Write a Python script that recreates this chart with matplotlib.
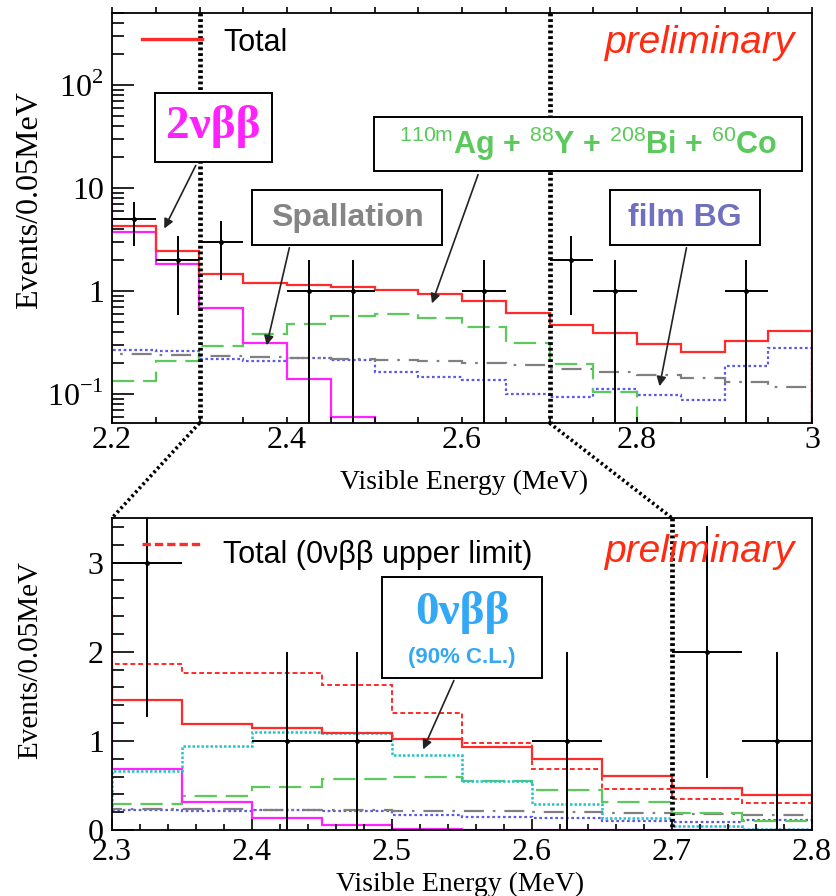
import numpy as np
import matplotlib
matplotlib.use("Agg")
import matplotlib.pyplot as plt
from matplotlib.patches import Rectangle, FancyArrowPatch
from matplotlib.lines import Line2D
from matplotlib.ticker import FixedLocator, MultipleLocator, NullFormatter, FixedFormatter

plt.rcParams['mathtext.fontset'] = 'custom'
plt.rcParams['mathtext.rm'] = 'Liberation Serif'
plt.rcParams['mathtext.sf'] = 'Liberation Sans'
plt.rcParams['font.family'] = ['Liberation Serif', 'DejaVu Serif']

# ---------------- data ----------------
bin_edges = [2.15, 2.20, 2.25, 2.30, 2.35, 2.40, 2.45, 2.50, 2.55, 2.60,
             2.65, 2.70, 2.75, 2.80, 2.85, 2.90, 2.95, 3.00]
total = [4.3, 4.3, 2.45, 1.46, 1.19, 1.14, 1.09, 1.02, 0.93, 0.80,
         0.61, 0.47, 0.39, 0.305, 0.255, 0.33, 0.41]
two_nu = [8.0, 3.75, 1.84, 0.68, 0.31, 0.14, 0.06, 0.015, 0, 0,
          0, 0, 0, 0, 0, 0, 0]
ag_y_bi_co = [0.08, 0.135, 0.21, 0.29, 0.38, 0.48, 0.57, 0.60, 0.55, 0.45,
              0.31, 0.195, 0.105, 0.052, 0.02, 0.01, 0.005]
spallation = [0.245, 0.243, 0.24, 0.236, 0.23, 0.226, 0.22, 0.215, 0.21, 0.2,
              0.19, 0.175, 0.165, 0.152, 0.142, 0.132, 0.118]
film_bg = [0.27, 0.265, 0.26, 0.22, 0.21, 0.225, 0.215, 0.165, 0.145, 0.138,
           0.10, 0.093, 0.112, 0.097, 0.088, 0.185, 0.28]

low_edges = [2.25, 2.30, 2.35, 2.40, 2.45, 2.50, 2.55, 2.60, 2.65, 2.70, 2.75, 2.80]
zero_nu = [0.28, 0.66, 0.94, 1.10, 1.09, 0.84, 0.55, 0.29, 0.13, 0.05, 0.01]
total_ul = [2.7, 1.86, 1.76, 1.76, 1.63, 1.31, 0.98, 0.68, 0.46, 0.35, 0.30]

top_x = [2.225, 2.275, 2.325, 2.425, 2.475, 2.625, 2.725, 2.775, 2.925]
top_n = [5, 2, 3, 1, 1, 1, 2, 1, 1]
low_x = [2.325, 2.425, 2.475, 2.625, 2.725, 2.775]
low_n = [3, 1, 1, 1, 2, 1]

top_yticks = [0.1, 1, 10, 100]
top_ytick_labels = [r'$10^{-1}$', '1', '10', r'$10^{2}$']
top_xticks = [2.2, 2.4, 2.6, 2.8, 3.0]
top_xtick_labels = ['2.2', '2.4', '2.6', '2.8', '3']
low_xticks = [2.3, 2.4, 2.5, 2.6, 2.7, 2.8]
low_xtick_labels = ['2.3', '2.4', '2.5', '2.6', '2.7', '2.8']
low_yticks = [0, 1, 2, 3]
low_ytick_labels = ['0', '1', '2', '3']

# ---------------- styles ----------------
RED = '#ff2a2a'
MAG = '#ff22ff'
GRN = '#5cc95c'
GRY = '#808080'
BLU = '#5a5ae6'
CYN = '#22c4c8'

W, H = 836, 896
fig = plt.figure(figsize=(W / 100, H / 100), dpi=100)


def fx(px):
    return px / W


def fy(py):
    return 1 - py / H


ax1 = fig.add_axes([fx(112), fy(423), 700 / W, 410 / H])
ax2 = fig.add_axes([fx(112), fy(830), 700 / W, 312 / H])

edges = np.array(bin_edges)
floor = 1e-4


def pos(v):
    v = np.asarray(v, dtype=float)
    return np.where(v > 0, v, floor)


LW = 1.6
# ---- top panel ----
ax1.set_yscale('log')
ax1.stairs(pos(film_bg), edges, color=BLU, lw=LW, ls=(0, (1.2, 1.2)))
ax1.stairs(pos(spallation), edges, color=GRY, lw=LW, ls=(0, (9, 4, 1.2, 4)))
ax1.stairs(pos(ag_y_bi_co), edges, color=GRN, lw=LW, ls=(0, (10, 4)))
ax1.stairs(pos(two_nu), edges, color=MAG, lw=LW)
ax1.stairs(pos(total), edges, color=RED, lw=LW)

tn = np.array(top_n, dtype=float)
err = np.sqrt(tn)
ax1.errorbar(top_x, tn, xerr=0.025, yerr=[np.minimum(err, tn - 1e-3), err],
             fmt='o', ms=2.5, color='black', lw=1.4, capsize=0)

ax1.set_xlim(2.2, 3.0)
ax1.set_ylim(0.0523, 500)
ax1.yaxis.set_major_locator(FixedLocator(top_yticks))
ax1.yaxis.set_major_formatter(FixedFormatter(top_ytick_labels))
minor = [m * 10.0 ** e for e in range(-2, 3) for m in range(2, 10)]
ax1.yaxis.set_minor_locator(FixedLocator(minor))
ax1.yaxis.set_minor_formatter(NullFormatter())
ax1.xaxis.set_major_locator(FixedLocator(top_xticks))
ax1.xaxis.set_major_formatter(FixedFormatter(top_xtick_labels))
ax1.xaxis.set_minor_locator(MultipleLocator(0.05))
ax1.tick_params(axis='y', which='major', direction='in', length=16, width=1.2,
                labelsize=23, pad=6, right=False)
ax1.tick_params(axis='y', which='minor', direction='in', length=8.5, width=1.2, right=False)
ax1.tick_params(axis='x', which='both', direction='in', length=4.5, width=1.2,
                labelsize=23, pad=2, top=False)
sec = ax1.secondary_xaxis('top')
sec.xaxis.set_major_locator(MultipleLocator(0.05))
sec.tick_params(direction='out', length=4.5, width=1.2, labelsize=0, labeltop=False)
sec.spines['top'].set_visible(False)

# ---- bottom panel ----
le = np.array(bin_edges[2:])
ax2.stairs(film_bg[2:], le, color=BLU, lw=LW, ls=(0, (1.2, 1.2)))
ax2.stairs(spallation[2:], le, color=GRY, lw=LW, ls=(0, (9, 4, 1.2, 4)))
ax2.stairs(ag_y_bi_co[2:], le, color=GRN, lw=LW, ls=(0, (10, 4)))
ax2.stairs(two_nu[2:], le, color=MAG, lw=LW)
ax2.stairs(zero_nu, np.array(low_edges), color=CYN, lw=1.8, ls=(0, (1, 0.8)))
ax2.stairs(total[2:], le, color=RED, lw=LW)
ax2.stairs(total_ul, np.array(low_edges), color=RED, lw=1.4, ls=(0, (2.5, 1.5)))

ln = np.array(low_n, dtype=float)
ax2.errorbar(low_x, ln, xerr=0.025, yerr=np.sqrt(ln), fmt='o', ms=2.5,
             color='black', lw=1.4, capsize=0)
ax2.set_xlim(2.3, 2.8)
ax2.set_ylim(0, 3.5)
ax2.xaxis.set_major_locator(FixedLocator(low_xticks))
ax2.xaxis.set_major_formatter(FixedFormatter(low_xtick_labels))
ax2.xaxis.set_minor_locator(MultipleLocator(0.02))
ax2.yaxis.set_major_locator(FixedLocator(low_yticks))
ax2.yaxis.set_major_formatter(FixedFormatter(low_ytick_labels))
ax2.yaxis.set_minor_locator(MultipleLocator(0.2))
ax2.tick_params(axis='y', which='major', direction='in', length=16, width=1.2,
                labelsize=23, pad=6, right=False)
ax2.tick_params(axis='y', which='minor', direction='in', length=8.5, width=1.2, right=False)
ax2.tick_params(axis='x', which='major', direction='in', length=8, width=1.2,
                labelsize=23, pad=6, top=False)
ax2.tick_params(axis='x', which='minor', direction='in', length=4, width=1.2, top=False)

for ax in (ax1, ax2):
    for s in ax.spines.values():
        s.set_linewidth(1.3)

# dotted zoom lines
dot = dict(color='black', lw=3.4, ls=(0, (0.6, 0.6)), transform=fig.transFigure)
for (x0, y0, x1, y1) in [(199.5, 13, 199.5, 423), (549.5, 13, 549.5, 423),
                         (672, 518, 672, 830)]:
    fig.add_artist(Line2D([fx(x0), fx(x1)], [fy(y0), fy(y1)], **dot))
thin = dict(color='black', lw=2.6, ls=(0, (0.7, 0.8)), transform=fig.transFigure)
fig.add_artist(Line2D([fx(199.5), fx(112)], [fy(423), fy(518)], **thin))
fig.add_artist(Line2D([fx(549.5), fx(672)], [fy(423), fy(518)], **thin))

# axis labels
fig.text(fx(464), fy(482), 'Visible Energy (MeV)', fontsize=20, ha='center', va='center')
fig.text(fx(460), fy(884), 'Visible Energy (MeV)', fontsize=20, ha='center', va='center')
fig.text(fx(30), fy(200), 'Events/0.05MeV', fontsize=23, rotation=90, ha='center', va='center')
fig.text(fx(30), fy(660), 'Events/0.05MeV', fontsize=21, rotation=90, ha='center', va='center')

SANS = ['Liberation Sans', 'DejaVu Sans']

# legends
fig.add_artist(Line2D([fx(142), fx(202)], [fy(39), fy(39)], color=RED, lw=2.4,
                      transform=fig.transFigure))
fig.text(fx(223), fy(51), 'Total', family=SANS, fontsize=22, va='baseline')
fig.add_artist(Line2D([fx(142), fx(202)], [fy(544), fy(544)], color=RED, lw=2.4,
                      ls=(0, (2.5, 1.2)), transform=fig.transFigure))
fig.text(fx(223), fy(563), 'Total (0νββ upper limit)', family=SANS, fontsize=22,
         va='baseline')
fig.text(fx(795), fy(53), 'preliminary', family=SANS, style='italic', fontsize=28,
         color='#ff2a10', ha='right', va='baseline')
fig.text(fx(795), fy(562), 'preliminary', family=SANS, style='italic', fontsize=28,
         color='#ff2a10', ha='right', va='baseline')


def box(x0, y0, x1, y1):
    fig.add_artist(Rectangle((fx(x0), fy(y1)), (x1 - x0) / W, (y1 - y0) / H,
                             transform=fig.transFigure, fill=True, fc='white',
                             ec='black', lw=1.4, zorder=5))


def arrow(x0, y0, x1, y1):
    fig.add_artist(FancyArrowPatch((fx(x0), fy(y0)), (fx(x1), fy(y1)),
                                   transform=fig.transFigure, arrowstyle='-|>',
                                   mutation_scale=14, color='#222222', lw=1.2,
                                   zorder=6))


box(155, 93, 272, 162)
fig.text(fx(213.5), fy(127), '2νββ', fontsize=34, weight='bold', color=MAG,
         ha='center', va='center', zorder=7)
arrow(197, 163, 163, 231)

box(374, 117, 802, 171)
fig.text(fx(588), fy(144),
         r'$^{\mathsf{110m}}$Ag + $^{\mathsf{88}}$Y + $^{\mathsf{208}}$Bi + $^{\mathsf{60}}$Co',
         family=SANS, fontsize=22, weight='bold', color=GRN, ha='center', va='center',
         zorder=7)
arrow(479, 172, 431, 306)

box(252, 190, 442, 245)
fig.text(fx(347), fy(218), 'Spallation', family=SANS, fontsize=23, weight='bold',
         color='#858585', ha='center', va='center', zorder=7)
arrow(290, 245, 266, 348)

box(610, 190, 760, 245)
fig.text(fx(685), fy(218), 'film BG', family=SANS, fontsize=23, weight='bold',
         color='#7070c0', ha='center', va='center', zorder=7)
arrow(687, 245, 659, 389)

box(382, 577, 542, 678)
fig.text(fx(462), fy(612), '0νββ', fontsize=34, weight='bold', color='#33a8f5',
         ha='center', va='center', zorder=7)
fig.text(fx(462), fy(657), '(90% C.L.)', family=SANS, fontsize=16, weight='bold',
         color='#33a8f5', ha='center', va='center', zorder=7)
arrow(455, 678, 422, 752)

fig.savefig('out.png', dpi=100)
